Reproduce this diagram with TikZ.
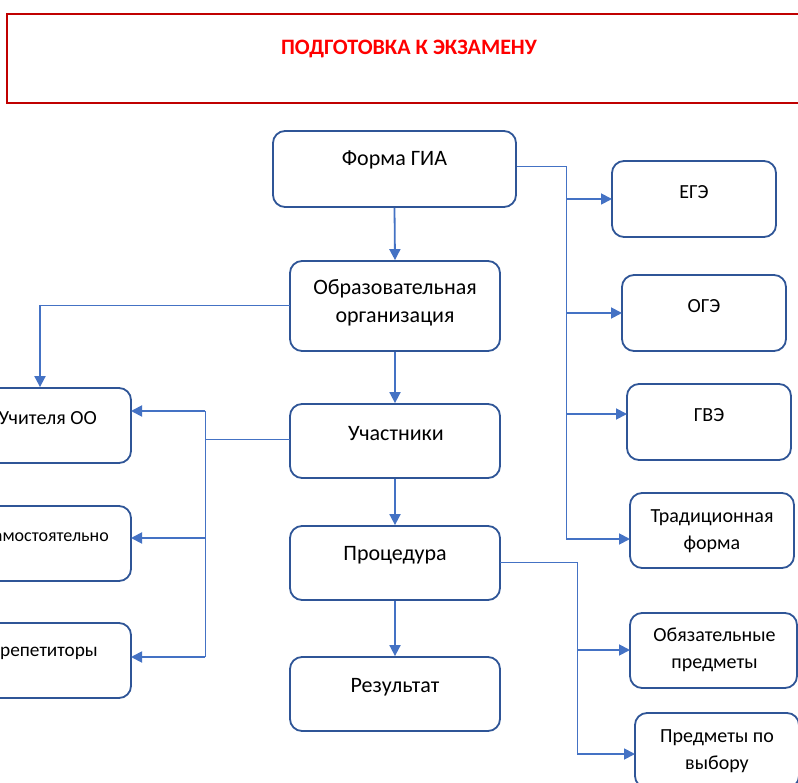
\documentclass[tikz,border=0pt]{standalone}
\usepackage{fontspec}
\setmainfont{Carlito}
\usetikzlibrary{arrows.meta}
\definecolor{boxblue}{HTML}{2F5597}
\definecolor{arrblue}{HTML}{4472C4}
\definecolor{titlered}{HTML}{C00000}
\definecolor{textred}{HTML}{FF0000}
\tikzset{
  box/.style={draw=boxblue, line width=1.8pt, rounded corners=12pt, fill=white, inner sep=0pt},
  txt/.style={font=\fontsize{20}{27}\selectfont, align=center, inner sep=0pt},
  txtc/.style={font=\fontsize{22}{28}\selectfont, align=center, inner sep=0pt},
  arr/.style={draw=arrblue, line width=1.8pt, -{Triangle[length=11pt,width=11pt]}},
  link/.style={draw=arrblue, line width=0.9pt},
}
\begin{document}
\begin{tikzpicture}[x=1pt,y=-1pt]
\clip (0,0) rectangle (798,783);
\fill[white] (0,0) rectangle (798,783);
% title
\node[draw=titlered, line width=2.2pt, minimum width=806pt, minimum height=89pt, inner sep=0pt] (tbox) at (410,58.5) {};
\node[font=\fontsize{22}{26}\selectfont\bfseries, text=textred, inner sep=0pt] (ttext) at (409,49) {ПОДГОТОВКА К ЭКЗАМЕНУ};
% central column
\node[box, minimum width=243pt, minimum height=76pt] (fgia) at (394.5,169) {};
\node[txtc] (fgiaT) at (394.5,160) {Форма ГИА};
\node[box, minimum width=210pt, minimum height=90pt] (org) at (395,306) {};
\node[txtc] (orgT) at (395,303) {Образовательная\\организация};
\node[box, minimum width=210pt, minimum height=74pt] (uch) at (395,441) {};
\node[txtc] (uchT) at (396,434) {Участники};
\node[box, minimum width=210pt, minimum height=74pt] (proc) at (395,563) {};
\node[txtc] (procT) at (395,555) {Процедура};
\node[box, minimum width=210pt, minimum height=74pt] (res) at (395,694) {};
\node[txtc] (resT) at (395,687) {Результат};
% left column
\node[box, minimum width=200pt, minimum height=75pt] (teach) at (31,425.5) {};
\node[txt, anchor=east] (teachT) at (97,418) {Учителя ОО};
\node[box, minimum width=200pt, minimum height=75pt] (self) at (31,543.5) {};
\node[txt, font=\fontsize{18}{23}\selectfont, anchor=east] (selfT) at (109,536) {Самостоятельно};
\node[box, minimum width=200pt, minimum height=75pt] (rep) at (31,660.5) {};
\node[txt, font=\fontsize{19.3}{24}\selectfont, anchor=east] (repT) at (98,653) {репетиторы};
% right column
\node[box, minimum width=164pt, minimum height=76pt] (ege) at (694,199) {};
\node[txt] (egeT) at (694,192) {ЕГЭ};
\node[box, minimum width=164pt, minimum height=76pt] (oge) at (704,313) {};
\node[txt] (ogeT) at (704,306) {ОГЭ};
\node[box, minimum width=164pt, minimum height=76pt] (gve) at (709,422) {};
\node[txt] (gveT) at (709,415) {ГВЭ};
\node[box, minimum width=164pt, minimum height=75pt] (trad) at (712,530.5) {};
\node[txt] (tradT) at (712,531) {Традиционная\\форма};
\node[box, minimum width=167pt, minimum height=75pt] (obj) at (713.5,650.5) {};
\node[txt] (objT) at (714.5,650) {Обязательные\\предметы};
\node[box, minimum width=164pt, minimum height=75pt] (vyb) at (717,750.5) {};
\node[txt] (vybT) at (717,751) {Предметы по\\выбору};
% coordinates
\coordinate (rbusTop) at (566,166);
\coordinate (rbusBot) at (566,539);
\coordinate (egeIn) at (612,199);
\coordinate (ogeIn) at (622,313);
\coordinate (gveIn) at (627,414);
\coordinate (tradIn) at (630,539);
\coordinate (orgOut) at (290,305);
\coordinate (orgCorner) at (40,305);
\coordinate (uchOut) at (290,439);
\coordinate (lbus) at (205,439);
\coordinate (teachIn) at (131,411);
\coordinate (selfIn) at (131,538);
\coordinate (repIn) at (131,657);
\coordinate (procOut) at (500,562);
\coordinate (pbus) at (577,562);
\coordinate (objIn) at (630,650);
\coordinate (vybIn) at (635,754);
% vertical arrows
\draw[arr] (fgia.south) -- (org.north);
\draw[arr] (org.south) -- (uch.north);
\draw[arr] (uch.south) -- (proc.north);
\draw[arr] (proc.south) -- (res.north);
% right bus from Форма ГИА
\draw[link] (fgia.east |- rbusTop) -- (rbusTop) -- (rbusBot);
\draw[arr] (rbusTop |- egeIn) -- (egeIn);
\draw[arr] (rbusTop |- ogeIn) -- (ogeIn);
\draw[arr] (rbusTop |- gveIn) -- (gveIn);
\draw[arr] (rbusBot) -- (tradIn);
% from Образовательная организация to Учителя ОО
\draw[link] (orgOut) -- (orgCorner);
\draw[arr] (orgCorner) -- (orgCorner |- teach.north);
% left bus from Участники
\draw[link] (uchOut) -- (lbus);
\draw[link] (lbus |- teachIn) -- (lbus |- repIn);
\draw[arr] (lbus |- teachIn) -- (teachIn);
\draw[arr] (lbus |- selfIn) -- (selfIn);
\draw[arr] (lbus |- repIn) -- (repIn);
% bus from Процедура
\draw[link] (procOut) -- (pbus) -- (pbus |- vybIn);
\draw[arr] (pbus |- objIn) -- (objIn);
\draw[arr] (pbus |- vybIn) -- (vybIn);
\end{tikzpicture}
\end{document}
